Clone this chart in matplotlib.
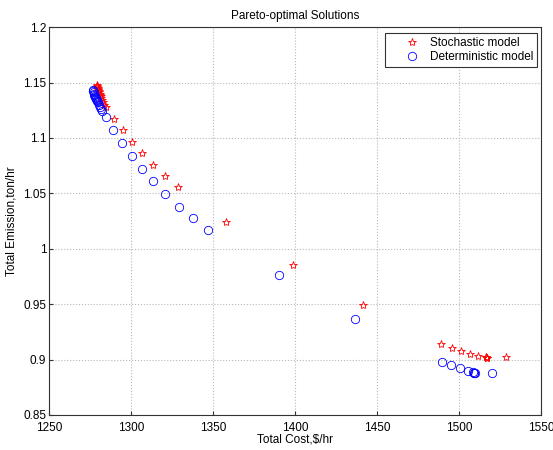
import matplotlib
matplotlib.use('Agg')
import matplotlib.pyplot as plt

plt.rcParams['font.family'] = ['Liberation Sans', 'DejaVu Sans']
plt.rcParams['font.size'] = 8.5

# Stochastic model (red stars)
sto_cost = [1279.0, 1279.2, 1279.4, 1279.6, 1279.8, 1280.0, 1280.3, 1280.6,
            1280.9, 1281.2, 1281.5, 1281.9, 1282.3, 1282.8, 1283.3,
            1285.0, 1289.8, 1294.9, 1300.6, 1306.7, 1313.4, 1320.5, 1328.7,
            1358.0, 1398.8, 1441.5,
            1489.2, 1496.1, 1501.4, 1506.5, 1511.4,
            1516.3, 1516.7, 1517.0, 1517.3, 1528.5]
sto_emis = [1.148, 1.147, 1.146, 1.145, 1.144, 1.143, 1.142, 1.141,
            1.140, 1.139, 1.138, 1.136, 1.134, 1.132, 1.130,
            1.128, 1.117, 1.107, 1.096, 1.086, 1.076, 1.066, 1.056,
            1.024, 0.985, 0.949,
            0.914, 0.910, 0.9075, 0.905, 0.9033,
            0.9022, 0.9019, 0.9017, 0.9016, 0.902]

# Deterministic model (blue circles)
det_cost = [1277.0, 1277.1, 1277.3, 1277.5, 1277.7, 1277.9, 1278.2, 1278.5,
            1278.8, 1279.1, 1279.5, 1279.9, 1280.4, 1280.9, 1281.5, 1282.2,
            1284.5, 1289.2, 1294.7, 1300.4, 1306.5, 1313.4, 1321.0, 1329.3,
            1338.0, 1347.0, 1390.0, 1436.6,
            1489.8, 1495.3, 1500.4, 1505.7,
            1508.8, 1509.1, 1509.4, 1509.7, 1520.0]
det_emis = [1.143, 1.142, 1.141, 1.140, 1.139, 1.138, 1.137, 1.136,
            1.135, 1.134, 1.133, 1.132, 1.130, 1.128, 1.126, 1.124,
            1.119, 1.107, 1.095, 1.084, 1.072, 1.061, 1.049, 1.038,
            1.028, 1.017, 0.976, 0.937,
            0.898, 0.8953, 0.892, 0.890,
            0.8884, 0.8883, 0.8882, 0.8882, 0.8883]

fig = plt.figure(figsize=(5.53, 4.5), dpi=100)
ax = fig.add_axes([0.0886, 0.0778, 0.8894, 0.862])

ax.plot(sto_cost, sto_emis, linestyle='none', marker='*', markersize=6,
        markerfacecolor='none', markeredgecolor='red', markeredgewidth=0.6,
        label='Stochastic model')
ax.plot(det_cost, det_emis, linestyle='none', marker='o', markersize=6,
        markerfacecolor='none', markeredgecolor='blue', markeredgewidth=0.6,
        label='Deterministic model')

ax.set_xlim(1250, 1550)
ax.set_ylim(0.85, 1.2)
ax.set_xticks([1250, 1300, 1350, 1400, 1450, 1500, 1550])
ax.set_yticks([0.85, 0.9, 0.95, 1, 1.05, 1.1, 1.15, 1.2])
ax.set_yticklabels(['0.85', '0.9', '0.95', '1', '1.05', '1.1', '1.15', '1.2'])
ax.grid(True, linestyle=':', color='#b8b8b8', linewidth=0.8)
ax.tick_params(direction='in', length=3, color='#333333', pad=2)
ax.tick_params(axis='x', pad=5)
for s in ax.spines.values():
    s.set_color('#333333')
    s.set_linewidth(0.8)

ax.set_xlabel('Total Cost,$/hr', labelpad=0)
ax.set_ylabel('Total Emission,ton/hr', labelpad=4)
ax.set_title('Pareto-optimal Solutions', fontsize=8.5, pad=6)

leg = ax.legend(loc='upper right', bbox_to_anchor=(0.992, 0.9845),
                borderaxespad=0, fancybox=False, framealpha=1,
                edgecolor='#333333', borderpad=0.3, labelspacing=0.2,
                handlelength=4.0, handletextpad=-0.45, fontsize=8.5)
leg.get_frame().set_linewidth(0.8)

fig.savefig('out.png', dpi=100)
